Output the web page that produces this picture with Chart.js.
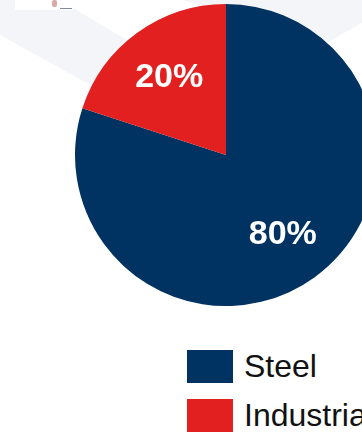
<!DOCTYPE html>
<html>
<head>
<meta charset="utf-8">
<script src="https://cdn.jsdelivr.net/npm/chart.js@4/dist/chart.umd.min.js"></script>
<style>
  html, body { margin: 0; padding: 0; background: #fff; }
  body { width: 362px; height: 432px; overflow: hidden; position: relative; font-family: "Liberation Sans", Arial, sans-serif; }
  .bg { position: absolute; left: 0; top: 0; width: 362px; height: 432px; background: #f4f5f8; }
  .bg-left { clip-path: polygon(0 0, 60px 0, 270px 126px, 200px 146px, 0 35px); }
  .bg-right { clip-path: polygon(183px 0, 362px 0, 362px 23px, 317px 48px); }
  .logo { position: absolute; left: 15px; top: 0; width: 58px; height: 10px; background: #fff; }
  .logo i { position: absolute; left: 37px; top: 0; width: 5px; height: 7px; background: #d9a8a8; border-radius: 2px; }
  .logo b { position: absolute; left: 45px; top: 8px; width: 12px; height: 1px; background: #7d8aa0; }
  #wrap { position: absolute; left: 75px; top: 4px; width: 302px; height: 302px; }
  #legend { position: absolute; left: 187px; top: 350px; }
  .item { display: flex; align-items: center; height: 33px; margin-bottom: 16px; white-space: nowrap; }
  .swatch { width: 46px; height: 33px; margin-right: 11px; flex: none; }
  .item span { font-size: 32px; color: #111; line-height: 33px; }
</style>
</head>
<body>
<div class="bg bg-left"></div>
<div class="bg bg-right"></div>
<div class="logo"><i></i><b></b></div>
<div id="wrap"><canvas id="pie" width="302" height="302"></canvas></div>
<div id="legend"></div>
<script>
// data
const categories = ['Steel', 'Industrial'];
const shares = [80, 20];
const sliceColors = ['#003361', '#e1201f'];

// percent labels inside the slices
const sliceLabels = {
    id: 'sliceLabels',
    afterDatasetsDraw(chart) {
        const ctx = chart.ctx;
        const meta = chart.getDatasetMeta(0);
        ctx.save();
        ctx.fillStyle = '#fff';
        ctx.font = 'bold 34px "Liberation Sans", Arial, sans-serif';
        ctx.textAlign = 'center';
        ctx.textBaseline = 'middle';
        meta.data.forEach(function(arc, i) {
            const mid = (arc.startAngle + arc.endAngle) / 2;
            const r = arc.outerRadius * 0.64;
            ctx.fillText(shares[i] + '%', arc.x + Math.cos(mid) * r, arc.y + Math.sin(mid) * r + 1);
        });
        ctx.restore();
    }
};

new Chart(document.getElementById('pie'), {
    type: 'pie',
    data: {
        labels: categories,
        datasets: [{
            data: shares,
            backgroundColor: sliceColors,
            borderWidth: 0
        }]
    },
    options: {
        responsive: false,
        animation: false,
        layout: { padding: 0 },
        plugins: {
            legend: { display: false },
            tooltip: { enabled: false }
        }
    },
    plugins: [sliceLabels]
});

// legend under the pie
const legend = document.getElementById('legend');
categories.forEach(function(name, i) {
    const row = document.createElement('div');
    row.className = 'item';
    row.innerHTML = '<div class="swatch" style="background:' + sliceColors[i] + '"></div><span>' + name + '</span>';
    legend.appendChild(row);
});
</script>
</body>
</html>
